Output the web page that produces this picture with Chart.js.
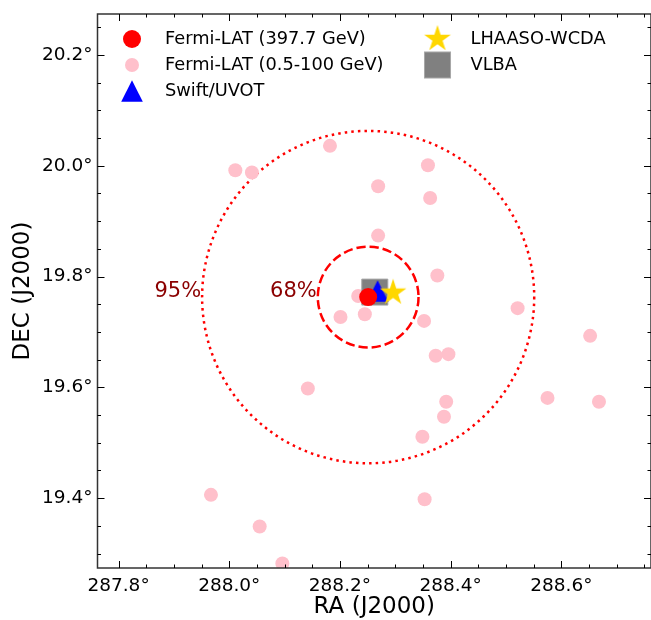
<!DOCTYPE html>
<html><head><meta charset="utf-8">
<script src="https://cdn.jsdelivr.net/npm/chart.js@4/dist/chart.umd.min.js"></script>
<style>html,body{margin:0;padding:0;background:#fff;overflow:hidden;}</style>
</head><body><canvas id="c" width="651" height="620" style="width:651px;height:620px;display:block;"></canvas>
<script>
// ---- data (degrees) ----
const fermiLowRA  = [288.182, 288.011, 288.041, 288.269, 288.359, 288.363, 288.269, 288.376, 288.233, 288.201, 288.245, 288.352, 288.521, 288.652, 288.373, 288.396, 288.142, 288.392, 288.388, 288.575, 288.668, 288.349, 288.353, 287.967, 288.055, 288.096];
const fermiLowDEC = [20.036, 19.992, 19.988, 19.963, 20.001, 19.942, 19.874, 19.802, 19.765, 19.727, 19.732, 19.720, 19.743, 19.693, 19.657, 19.660, 19.598, 19.574, 19.547, 19.581, 19.574, 19.511, 19.398, 19.406, 19.349, 19.282];
const fermiHighRA = [288.251];
const fermiHighDEC = [19.763];
const swiftRA = [288.268];
const swiftDEC = [19.774];
const lhaasoRA = [288.296];
const lhaasoDEC = [19.771];
const vlbaRA = [288.263];
const vlbaDEC = [19.772];
const contourCenterRA = 288.251;
const contourCenterDEC = 19.763;
const contourLabels = ['68%', '95%'];
const contourRadii = [0.091, 0.300];
const contourLabelDEC = 19.773;
const raTicks = [287.8, 288.0, 288.2, 288.4, 288.6];
const decTicks = [19.4, 19.6, 19.8, 20.0, 20.2];
const raMinorTicks = [287.85, 287.9, 287.95, 288.05, 288.1, 288.15, 288.25, 288.3, 288.35, 288.45, 288.5, 288.55, 288.65, 288.7, 288.75];
const decMinorTicks = [19.3, 19.35, 19.45, 19.5, 19.55, 19.65, 19.7, 19.75, 19.85, 19.9, 19.95, 20.05, 20.1, 20.15, 20.25];

const FONT = 'DejaVu Sans';

function makeStar(R, color) {
  const s = Math.ceil(R * 2 + 4), c = document.createElement('canvas');
  c.width = s; c.height = s;
  const g = c.getContext('2d'), cx = s / 2, cy = s / 2, r = R * 0.381966;
  g.beginPath();
  for (let i = 0; i < 10; i++) {
    const rr = i % 2 ? r : R, a = -Math.PI / 2 + i * Math.PI / 5;
    const px = cx + rr * Math.cos(a), py = cy + rr * Math.sin(a);
    i ? g.lineTo(px, py) : g.moveTo(px, py);
  }
  g.closePath(); g.fillStyle = color; g.fill();
  return c;
}
function makeTriangle(h, color) {
  const s = Math.ceil(h * 2 + 4), c = document.createElement('canvas');
  c.width = s; c.height = s;
  const g = c.getContext('2d'), cx = s / 2, cy = s / 2;
  g.beginPath(); g.moveTo(cx, cy - h); g.lineTo(cx - h, cy + h); g.lineTo(cx + h, cy + h); g.closePath();
  g.fillStyle = color; g.fill();
  return c;
}
const starImg = makeStar(14, '#FFD700');
const triImg = makeTriangle(10.8, '#0000FF');

function pts(xs, ys) { return xs.map((x, i) => ({x: x, y: ys[i]})); }

const datasets = [
  {label: 'Fermi-LAT (397.7 GeV)', data: pts(fermiHighRA, fermiHighDEC), pointStyle: 'circle', pointRadius: 9, backgroundColor: '#FF0000', borderWidth: 0, order: 0, legendCol: 0, legendRow: 0},
  {label: 'Fermi-LAT (0.5-100 GeV)', data: pts(fermiLowRA, fermiLowDEC), pointStyle: 'circle', pointRadius: 7, backgroundColor: '#FFC0CB', borderWidth: 0, order: 4, legendCol: 0, legendRow: 1},
  {label: 'Swift/UVOT', data: pts(swiftRA, swiftDEC), pointStyle: triImg, pointRadius: 11, backgroundColor: '#0000FF', borderWidth: 0, order: 2, legendCol: 0, legendRow: 2},
  {label: 'LHAASO-WCDA', data: pts(lhaasoRA, lhaasoDEC), pointStyle: starImg, pointRadius: 14, backgroundColor: '#FFD700', borderWidth: 0, order: 1, legendCol: 1, legendRow: 0},
  {label: 'VLBA', data: pts(vlbaRA, vlbaDEC), pointStyle: 'rect', pointRadius: 18.4, backgroundColor: '#808080', borderColor: '#a8a8a8', borderWidth: 1, order: 3, legendCol: 1, legendRow: 1}
];
datasets.forEach(d => { d.clip = 0; d.pointHoverRadius = d.pointRadius; d.showLine = false; });

const contourPlugin = {
  id: 'contours',
  beforeDatasetsDraw(chart) {
    const ctx = chart.ctx, xs = chart.scales.x, ys = chart.scales.y, a = chart.chartArea;
    const cx = xs.getPixelForValue(contourCenterRA), cy = ys.getPixelForValue(contourCenterDEC);
    ctx.save();
    ctx.beginPath(); ctx.rect(a.left, a.top, a.right - a.left, a.bottom - a.top); ctx.clip();
    contourRadii.forEach((r, i) => {
      const rx = Math.abs(xs.getPixelForValue(contourCenterRA + r) - cx);
      const ry = Math.abs(ys.getPixelForValue(contourCenterDEC + r) - cy);
      ctx.beginPath();
      ctx.ellipse(cx, cy, rx, ry, 0, 0, Math.PI * 2);
      ctx.strokeStyle = '#FF0000';
      ctx.lineWidth = 2.5;
      ctx.setLineDash(i === 0 ? [9.25, 4] : [2.5, 4.1]);
      ctx.stroke();
      ctx.setLineDash([]);
      ctx.fillStyle = '#8B0000';
      ctx.font = '21px "' + FONT + '"';
      ctx.textAlign = 'right';
      ctx.textBaseline = 'middle';
      ctx.fillText(contourLabels[i], cx - rx - 1, ys.getPixelForValue(contourLabelDEC));
    });
    ctx.restore();
  },
  afterDraw(chart) {
    const ctx = chart.ctx, xs = chart.scales.x, ys = chart.scales.y, a = chart.chartArea;
    ctx.save();
    ctx.strokeStyle = '#333333';
    ctx.lineWidth = 1.5;
    ctx.strokeRect(a.left, a.top, a.right - a.left, a.bottom - a.top);
    ctx.lineWidth = 1;
    ctx.strokeStyle = '#000000';
    const drawX = (vals, len) => vals.forEach(v => {
      const p = Math.round(xs.getPixelForValue(v)) + 0.5;
      ctx.beginPath(); ctx.moveTo(p, a.bottom); ctx.lineTo(p, a.bottom - len);
      ctx.moveTo(p, a.top); ctx.lineTo(p, a.top + len); ctx.stroke();
    });
    const drawY = (vals, len) => vals.forEach(v => {
      const p = Math.round(ys.getPixelForValue(v)) + 0.5;
      ctx.beginPath(); ctx.moveTo(a.left, p); ctx.lineTo(a.left + len, p);
      ctx.moveTo(a.right, p); ctx.lineTo(a.right - len, p); ctx.stroke();
    });
    drawX(raTicks, 7); drawX(raMinorTicks, 3.5);
    drawY(decTicks, 7); drawY(decMinorTicks, 3.5);
    const colX = [132, 437.5], rowY = [39, 65, 91], textDx = 33;
    ctx.font = '17.8px "' + FONT + '"';
    ctx.textAlign = 'left';
    ctx.textBaseline = 'middle';
    chart.data.datasets.forEach(d => {
      const x = colX[d.legendCol], y = rowY[d.legendRow];
      const st = d.pointStyle;
      if (st instanceof HTMLCanvasElement) {
        ctx.drawImage(st, x - st.width / 2, y - st.height / 2);
      } else if (st === 'circle') {
        ctx.beginPath(); ctx.arc(x, y, d.pointRadius, 0, Math.PI * 2);
        ctx.fillStyle = d.backgroundColor; ctx.fill();
      } else if (st === 'rect') {
        const h = Math.SQRT1_2 * d.pointRadius;
        ctx.fillStyle = d.backgroundColor; ctx.fillRect(x - h, y - h, 2 * h, 2 * h);
        ctx.strokeStyle = d.borderColor; ctx.lineWidth = d.borderWidth; ctx.strokeRect(x - h, y - h, 2 * h, 2 * h);
      }
      ctx.fillStyle = '#000000';
      ctx.fillText(d.label, x + textDx, y);
    });
    ctx.restore();
  }
};

new Chart(document.getElementById('c'), {
  type: 'scatter',
  data: {datasets: datasets},
  options: {
    responsive: false,
    animation: false,
    events: [],
    layout: {autoPadding: false, padding: {top: 14, right: 0, left: 0, bottom: 0}},
    plugins: {legend: {display: false}, tooltip: {enabled: false}},
    scales: {
      x: {
        type: 'linear', min: 287.762, max: 288.762,
        grid: {display: false, drawTicks: false},
        border: {display: false},
        afterBuildTicks: s => { s.ticks = raTicks.map(v => ({value: v})); },
        afterFit: s => { s.height = 52; s.paddingLeft = 0; s.paddingRight = 0; },
        ticks: {padding: 7, color: '#000', font: {family: FONT, size: 18.5}, maxRotation: 0, callback: v => v.toFixed(1) + '°'},
        title: {display: true, text: 'RA (J2000)', color: '#000', font: {family: FONT, size: 23}, padding: {top: 0, bottom: -1}}
      },
      y: {
        type: 'linear', min: 19.274, max: 20.274,
        grid: {display: false, drawTicks: false},
        border: {display: false},
        afterBuildTicks: s => { s.ticks = decTicks.map(v => ({value: v})); },
        afterFit: s => { s.width = 97.5; s.paddingTop = 0; s.paddingBottom = 0; },
        ticks: {padding: 5, color: '#000', font: {family: FONT, size: 18.5}, callback: v => v.toFixed(1) + '°'},
        title: {display: true, text: 'DEC (J2000)', color: '#000', font: {family: FONT, size: 23}, padding: {top: 9, bottom: 0}}
      }
    }
  },
  plugins: [contourPlugin]
});
</script>
</body></html>
